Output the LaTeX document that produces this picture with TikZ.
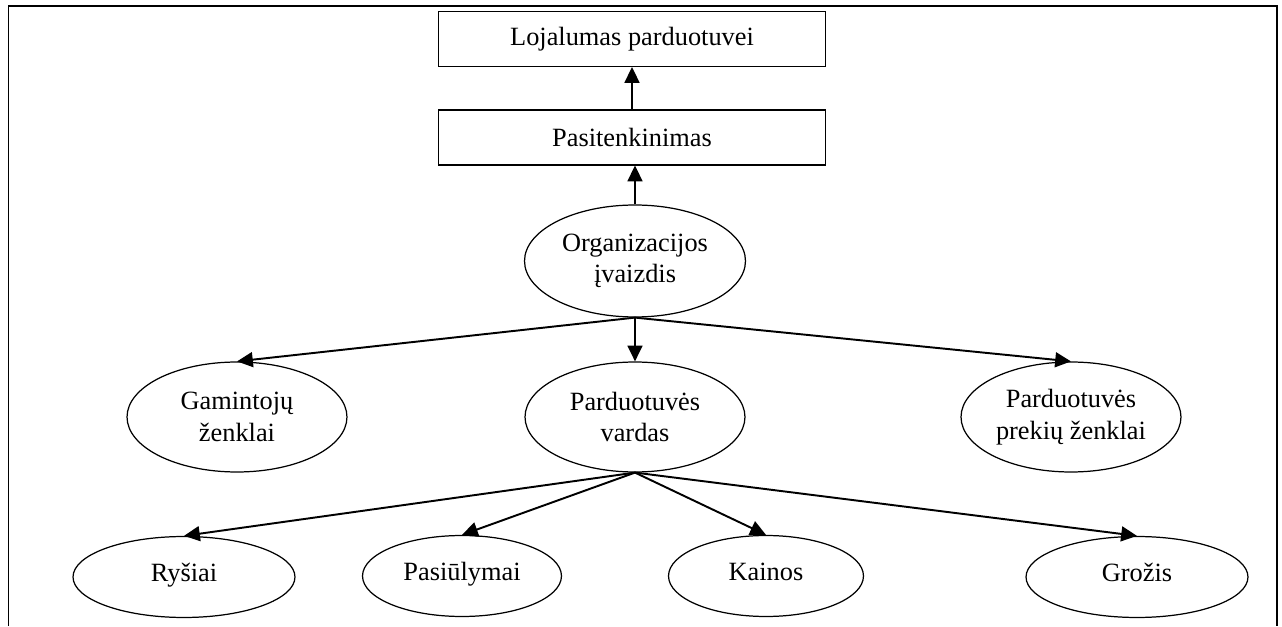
\documentclass[tikz,border=0pt]{standalone}
\usepackage{fontspec}
\setmainfont{Liberation Serif}
\usetikzlibrary{shapes,arrows.meta}

\begin{document}
\begin{tikzpicture}[
    x							= 0.02cm,
    y							= 0.02cm,
    font						= \fontsize{15}{18}\selectfont,
    blokas/.style={rectangle, draw, line width=0.6pt, minimum width=7.76cm, minimum height=1.1cm},
    ovalas/.style={ellipse, draw, line width=0.7pt, inner sep=0pt, minimum width=4.4cm, minimum height=2.2cm, align=center},
    mazas/.style={ellipse, draw, line width=0.7pt, inner sep=0pt, minimum height=1.62cm, text height=1.6ex, text depth=0.5ex},
    %remelis/.style={draw, line width=0.8pt},
    rodykle/.style={-{Triangle[length=9pt,width=8.5pt]}, line width=1.1pt}
    ]

\useasboundingbox (0,0) rectangle (1282,626);
% atviras remelis be apacios
\draw[line width=0.8pt] (8.5,0) -- (8.5,620) -- (1277,620) -- (1277,0);

\node[blokas] (lojalumas) at (632,587) {Lojalumas parduotuvei};
\node[blokas] (pasitenkinimas) at (632,488.5) {Pasitenkinimas};

\node[ovalas, minimum width=4.42cm, minimum height=2.24cm] (ivaizdis) at (635,365) {Organizacijos\\įvaizdis};

\node[ovalas] (gamintoju) at (237,209) {Gamintojų\\ženklai};
\node[ovalas] (vardas) at (635,209) {Parduotuvės\\vardas};
\node[ovalas] (prekiu) at (1071,209) {Parduotuvės\\prekių ženklai};

\node[mazas, minimum width=4.44cm] (rysiai) at (184,49) {Ryšiai};
\node[mazas, minimum width=3.98cm] (pasiulymai) at (462,50) {Pasiūlymai};
\node[mazas, minimum width=3.9cm] (kainos) at (766,50) {Kainos};
\node[mazas, minimum width=4.44cm] (grozis) at (1137,49) {Grožis};

\draw[rodykle] (pasitenkinimas.north) -- (lojalumas.south);
\draw[rodykle] (ivaizdis.north) -- (ivaizdis.north |- pasitenkinimas.south);

\draw[rodykle] (ivaizdis.south) -- (gamintoju.north);
\draw[rodykle] (ivaizdis.south) -- (vardas.north);
\draw[rodykle] (ivaizdis.south) -- (prekiu.north);

\draw[rodykle] (vardas.south) -- (rysiai.north);
\draw[rodykle] (vardas.south) -- (pasiulymai.north);
\draw[rodykle] (vardas.south) -- (kainos.north);
\draw[rodykle] (vardas.south) -- (grozis.north);

\end{tikzpicture}
\end{document}
